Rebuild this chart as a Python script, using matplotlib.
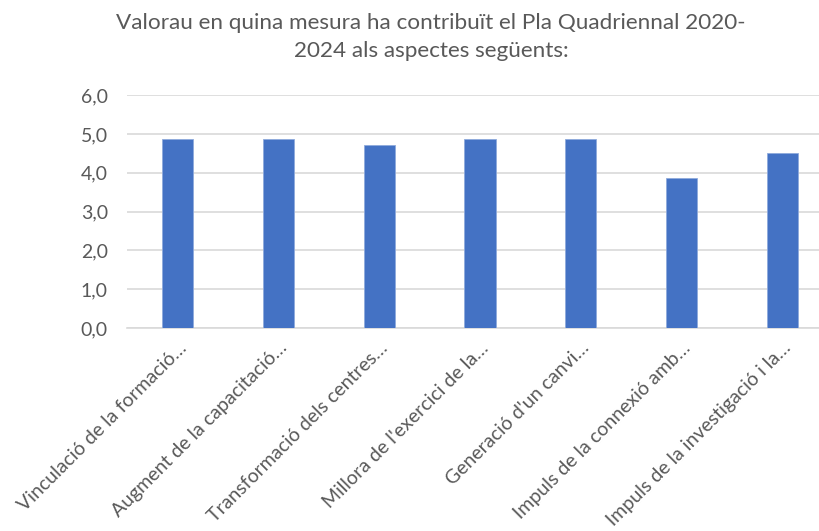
import matplotlib
matplotlib.use("Agg")
import matplotlib.pyplot as plt

categories = [
    "Vinculació de la formació…",
    "Augment de la capacitació…",
    "Transformació dels centres…",
    "Millora de l'exercici de la…",
    "Generació d'un canvi…",
    "Impuls de la connexió amb…",
    "Impuls de la investigació i la…",
]
values = [4.87, 4.87, 4.73, 4.87, 4.87, 3.88, 4.50]
yticks = [0, 1, 2, 3, 4, 5, 6]
ytick_labels = ["0,0", "1,0", "2,0", "3,0", "4,0", "5,0", "6,0"]
title = "Valorau en quina mesura ha contribuït el Pla Quadriennal 2020-\n2024 als aspectes següents:"

plt.rcParams["font.family"] = ["Lato", "DejaVu Sans"]
grey = "#595959"

fig = plt.figure(figsize=(8.19, 5.31), dpi=100)
ax = fig.add_axes([127.4 / 819, 203 / 531, (832.5 - 127.4) / 819, 232.7 / 531])

x = list(range(len(categories)))
ax.bar(x, values, width=0.31, color="#4472C4", edgecolor="#8faadc", linewidth=0.6, zorder=3)
ax.set_xlim(-0.5, len(categories) - 0.5)
ax.set_ylim(0, 6)
ax.set_yticks(yticks)
ax.set_yticklabels(ytick_labels, color=grey, fontsize=14)
ax.set_xticks(x)
ax.set_xticklabels(categories, rotation=45, ha="right", rotation_mode="anchor",
                   color=grey, fontsize=14)
ax.tick_params(axis="both", length=0)
ax.tick_params(axis="y", pad=14)
ax.tick_params(axis="x", pad=8)
ax.grid(axis="y", color="#d9d9d9", linewidth=1.2, zorder=0)
for s in ["top", "right", "left"]:
    ax.spines[s].set_visible(False)
ax.spines["bottom"].set_color("#d9d9d9")
ax.spines["bottom"].set_linewidth(1.2)

fig.text(431 / 819, 1 - 37 / 531, title, ha="center", va="center", color=grey,
         fontsize=16.2, linespacing=1.5)

fig.savefig("out.png", dpi=100)
